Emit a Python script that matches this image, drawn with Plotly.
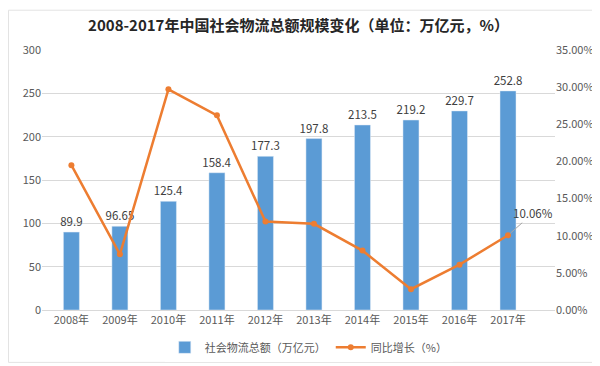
import plotly.graph_objects as go

years = ["2008年", "2009年", "2010年", "2011年", "2012年", "2013年", "2014年", "2015年", "2016年", "2017年"]
total = [89.9, 96.65, 125.4, 158.4, 177.3, 197.8, 213.5, 219.2, 229.7, 252.8]
total_labels = ["89.9", "96.65", "125.4", "158.4", "177.3", "197.8", "213.5", "219.2", "229.7", "252.8"]
growth = [0.195, 0.075, 0.297, 0.262, 0.119, 0.116, 0.080, 0.028, 0.061, 0.1006]

FONT = "Noto Sans CJK SC"
TXT = "#595959"

fig = go.Figure()
fig.add_trace(go.Bar(
    x=years, y=total, name="社会物流总额（万亿元）",
    marker=dict(color="#5B9BD5"),
    text=total_labels, textposition="outside", cliponaxis=False,
    constraintext="none",
    textfont=dict(family=FONT, size=11.5, color="#404040"),
))
fig.add_trace(go.Scatter(
    x=years, y=growth, name="同比增长（%）", yaxis="y2",
    mode="lines+markers",
    line=dict(color="#ED7D31", width=2.5),
    marker=dict(color="#ED7D31", size=6),
    cliponaxis=False,
))

# label for last growth point
fig.add_annotation(
    x=years[-1], y=growth[-1], yref="y2", xref="x",
    text=f"{growth[-1]*100:.2f}%", showarrow=True,
    ax=25, ay=-22, arrowhead=0, arrowwidth=1, arrowcolor="#A6A6A6",
    standoff=3,
    font=dict(family=FONT, size=11.5, color="#404040"),
)

# light outer border
L, R, T, B = 34, 53, 41.5, 56.5
pw, ph = 600 - L - R, 366 - T - B
fig.add_shape(type="rect", xref="paper", yref="paper",
              x0=-(L - 0.5) / pw, x1=1 + (R - 1.5) / pw,
              y0=-(B - 2.5) / ph, y1=1 + (T - 0.5) / ph,
              line=dict(color="#E3E3E3", width=1), layer="below")

fig.update_layout(
    width=600, height=366,
    margin=dict(l=L, r=R, t=T, b=B),
    paper_bgcolor="white", plot_bgcolor="white",
    font=dict(family=FONT, size=11, color=TXT),
    title=dict(text="<b>2008-2017年中国社会物流总额规模变化（单位：万亿元，%）</b>",
               x=0.5, xref="paper", xanchor="center", y=1 - 18 / 366, yanchor="middle",
               font=dict(family=FONT, size=15, color="#262626")),
    bargap=0.67,
    showlegend=True,
    legend=dict(orientation="h", x=0.52, xanchor="center", y=-(348 - 309.5) / ph, yanchor="middle",
                font=dict(family=FONT, size=11, color=TXT), itemwidth=30, tracegroupgap=0),
    xaxis=dict(showgrid=False, showline=True, linecolor="#D9D9D9", linewidth=1,
               ticks="", tickfont=dict(family=FONT, size=11, color=TXT)),
    yaxis=dict(range=[0, 300], dtick=50, showgrid=True, gridcolor="#D9D9D9", gridwidth=1,
               zeroline=False, showline=False, ticks="",
               tickfont=dict(family=FONT, size=11, color=TXT)),
    yaxis2=dict(range=[0, 0.35], dtick=0.05, tickformat=".2%", overlaying="y", side="right",
                showgrid=False, zeroline=False, showline=False, ticks="",
                tickfont=dict(family=FONT, size=11, color=TXT)),
)

fig.write_html("out.html")
